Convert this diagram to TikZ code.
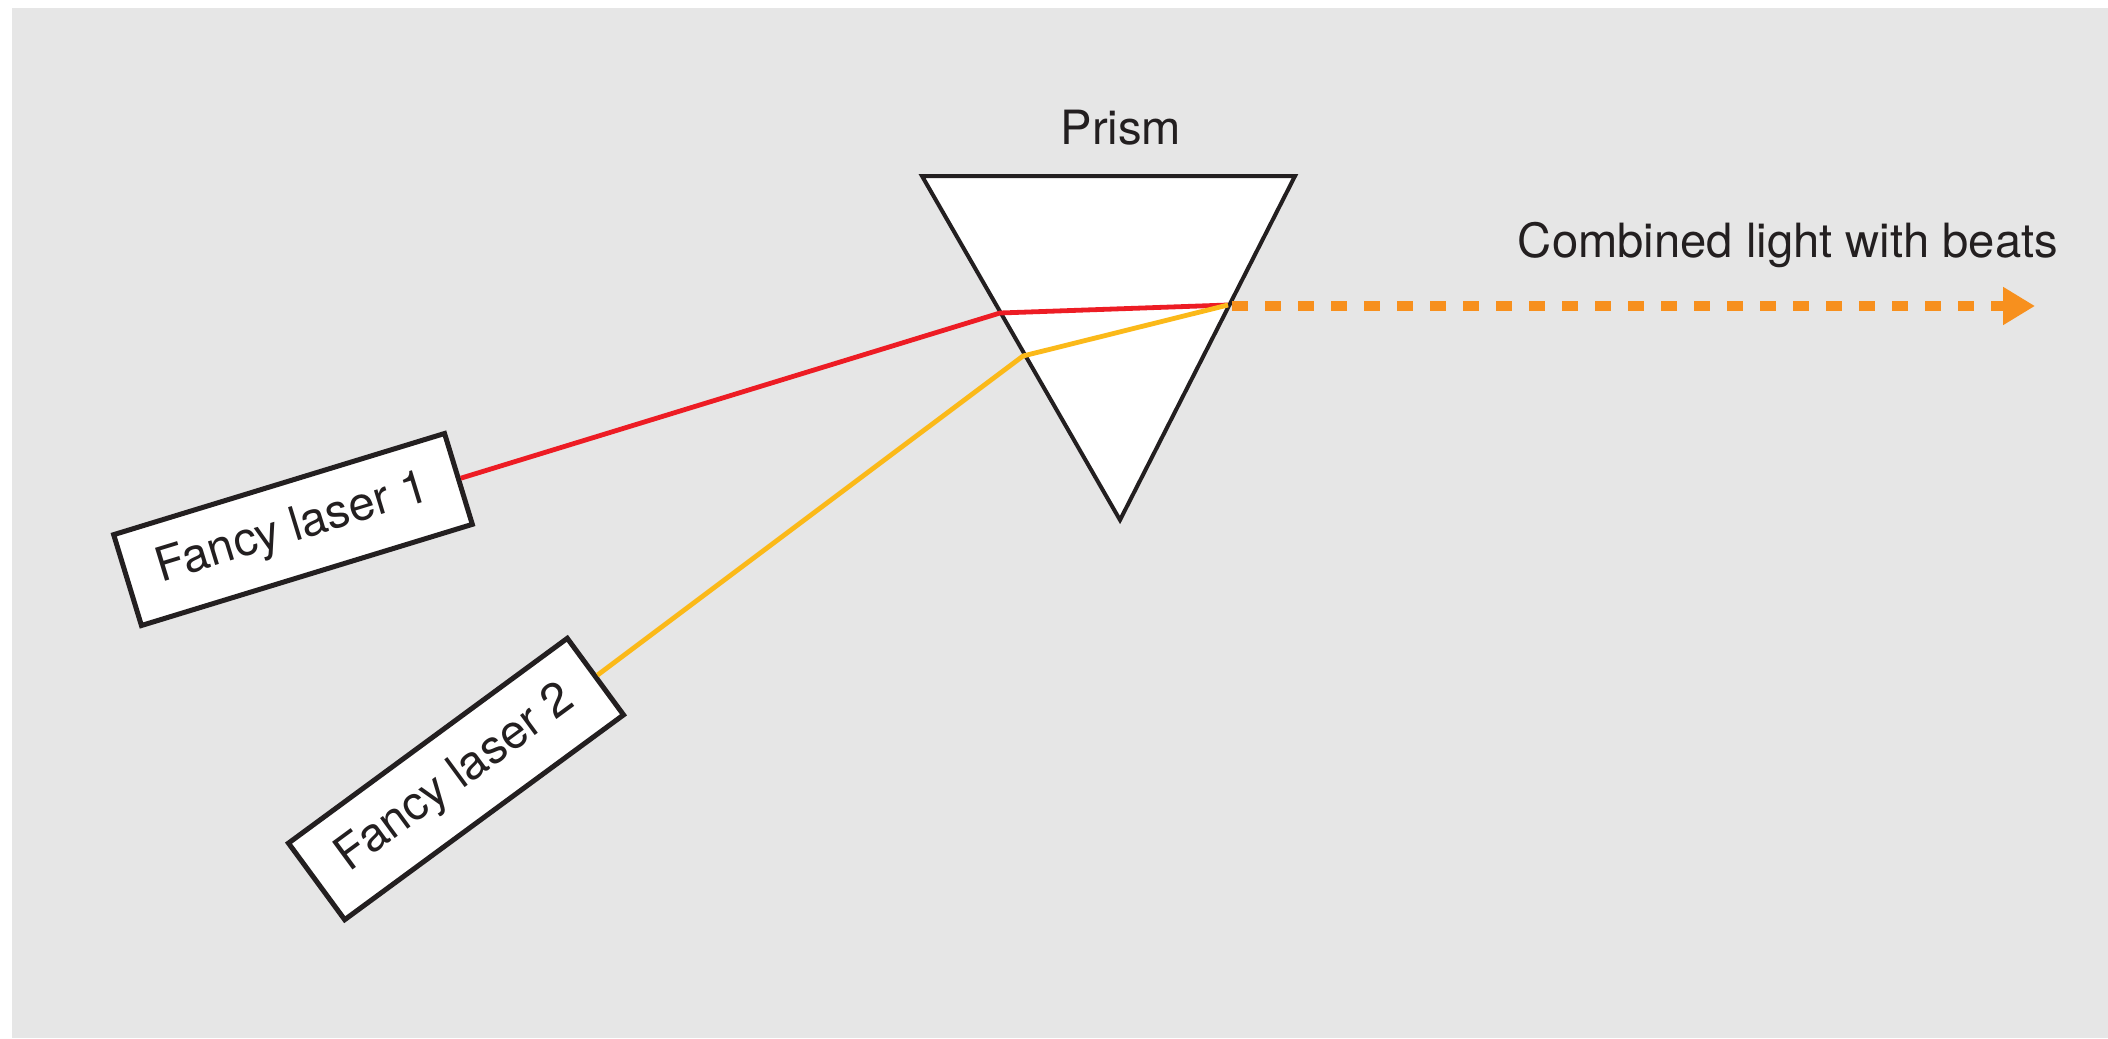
\documentclass[tikz,border=0pt]{standalone}
\usepackage{fontspec}
\setmainfont{TeX Gyre Heros}
\usetikzlibrary{arrows.meta}
\definecolor{bg}{HTML}{E6E6E6}
\definecolor{ink}{HTML}{231F20}
\definecolor{beamred}{HTML}{ED1C24}
\definecolor{beamyellow}{HTML}{FBB919}
\definecolor{beamorange}{HTML}{F7901E}
\tikzset{
  laserbox/.style={draw=ink, fill=white, line width=2.5pt, minimum width=173pt, minimum height=47.5pt, inner sep=0pt, font=\fontsize{23.6}{28}\selectfont, text=ink},
  lbl/.style={font=\fontsize{23.6}{28}\selectfont, text=ink, inner sep=0pt},
  beam/.style={line width=2.4pt, line join=miter},
  combined/.style={beamorange, line width=5.3pt, dash pattern=on 8pt off 8.5pt, -{Triangle[length=16pt,width=18pt]}}
}
\begin{document}
\begin{tikzpicture}[x=0.5pt,y=-0.5pt]
\useasboundingbox (0,0) rectangle (2108,1038);
\fill[bg] (12,8) rectangle (2108,1038);
% prism
\draw[ink, fill=white, line width=2pt, line join=miter] (922,176) -- (1295,176) -- (1120,520) -- cycle;
\node[lbl, anchor=base] (prismlabel) at (1121,144) {Prism};
% lasers
\node[laserbox, rotate=17] (laser1) at (293,529.5) {Fancy laser 1};
\node[laserbox, rotate=36.3] (laser2) at (456,779) {Fancy laser 2};
% beam points
\coordinate (r1) at (1000,313);
\coordinate (y1) at (1023,356);
\coordinate (out) at (1228,305);
\coordinate (start) at (1232,306);
\coordinate (tip) at (2035,306);
\draw[beam, beamred] (laser1.east) -- (r1) -- (out);
\draw[beam, beamyellow] (laser2.east) -- (y1) -- (out);
\draw[combined] (start) -- (tip);
\node[lbl, anchor=base] (combinedlabel) at (1788,257) {Combined light with beats};
\end{tikzpicture}
\end{document}
